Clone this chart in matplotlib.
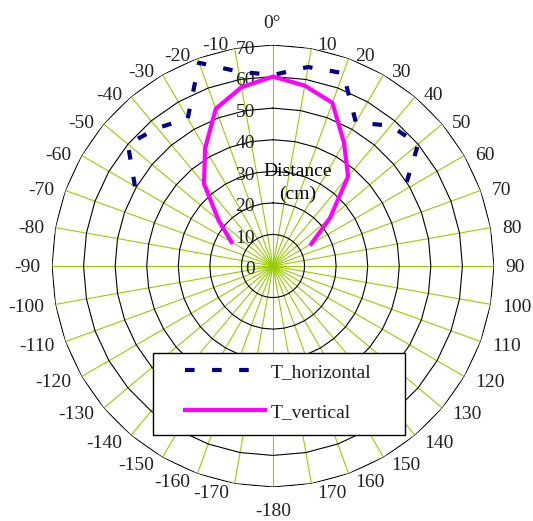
import numpy as np
import matplotlib
matplotlib.use("Agg")
import matplotlib.pyplot as plt
from matplotlib.patches import Rectangle

# ---- data ----
angle_labels = [0, 10, 20, 30, 40, 50, 60, 70, 80, 90, 100, 110, 120, 130, 140, 150, 160, 170,
                -180, -170, -160, -150, -140, -130, -120, -110, -100, -90, -80, -70, -60, -50, -40, -30, -20, -10]
radial_ticks = [0, 10, 20, 30, 40, 50, 60, 70]

angles = [-60, -50, -40, -30, -20, -10, 0, 10, 20, 30, 40, 50, 60]
t_horizontal = [50.5, 60, 57, 54, 68.5, 62.5, 60.5, 64, 65, 52.5, 58, 60, 48]
t_vertical = [15.2, 22.5, 34, 43, 53, 57.5, 60, 58, 55, 45, 37, 23.5, 14]

series_names = ["T_horizontal", "T_vertical"]

W, H = 533, 521
fig = plt.figure(figsize=(W / 100, H / 100), dpi=100)
fig.patch.set_facecolor("white")

cx, cy, R = 273, 266, 221
ax = fig.add_axes([(cx - R) / W, (H - cy - R) / H, 2 * R / W, 2 * R / H], projection="polar")
ax.set_theta_zero_location("N")
ax.set_theta_direction(-1)
ax.set_ylim(0, 70)
ax.grid(False)
ax.set_xticks([])
ax.set_yticks([])
ax.spines["polar"].set_visible(False)
ax.patch.set_facecolor("none")

serif = "Liberation Serif"
tick_color = "#222222"
fs = 14
PT = 0.72  # points per pixel at dpi 100

spoke_deg = np.arange(0, 360, 10)
theta_sp = np.deg2rad(spoke_deg)

# spokes
for th in theta_sp:
    ax.plot([th, th], [0, 70], color="#99CC00", lw=0.8, zorder=1)

# polygonal rings
closed = np.append(theta_sp, theta_sp[0])
for r in radial_ticks[1:]:
    ax.plot(closed, [r] * len(closed), color="black", lw=0.8, zorder=2)

# angle labels (placed next to spoke ends, Excel style)
half_digit = 6.5  # px from digit centre to baseline
for th, lab in zip(theta_sp, angle_labels):
    txt = "0°" if lab == 0 else str(lab)
    s, c = np.sin(th), np.cos(th)
    if abs(s) < 1e-6:
        ha = "center"
        dx = -1.5 if c > 0 else 0
        dy = -24 if c > 0 else 23
    else:
        ha = "left" if s > 0 else "right"
        gap = 4.5 + 7.0 * abs(s)
        dx = np.sign(s) * gap
        dy = -4.5 * c if c > 0 else -7.5 * c
    ax.annotate(txt, xy=(th, 70), xytext=(dx * PT, -(dy + half_digit) * PT),
                textcoords="offset points", ha=ha, va="baseline", fontsize=fs,
                family=serif, color=tick_color, annotation_clip=False)

# radial labels
for r in radial_ticks:
    ax.annotate(str(r), xy=(0, r), xytext=(-18 * PT, -(2 + half_digit) * PT),
                textcoords="offset points", ha="right", va="baseline", fontsize=fs,
                family=serif, color=tick_color, annotation_clip=False, zorder=3)

# series
th_a = np.deg2rad(angles)
lh, = ax.plot(th_a, t_horizontal, color="#000080", lw=3, zorder=4, solid_capstyle="butt")
lh.set_dashes((2.3, 4.2))
lv, = ax.plot(th_a, t_vertical, color="#FF00FF", lw=3, zorder=4)

fig.text(298 / W, 1 - 183 / H, "Distance\n(cm)", ha="center", va="center",
         fontsize=fs, family=serif, color="black", linespacing=1.4, zorder=5)

# legend box
x0, y0, x1, y1 = 153, 353, 405, 435
fig.patches.append(Rectangle((x0 / W, 1 - y1 / H), (x1 - x0) / W, (y1 - y0) / H,
                             transform=fig.transFigure, facecolor="white",
                             edgecolor="black", lw=1, zorder=5))
leg = fig.legend([lh, lv], series_names, loc="center left",
                 bbox_to_anchor=(185 / W, 1 - 392 / H), frameon=False,
                 borderpad=0, borderaxespad=0, handlelength=4.1, handletextpad=0.3,
                 labelspacing=1.16, prop={"family": serif, "size": fs})
leg.set_zorder(6)
for t in leg.get_texts():
    t.set_color(tick_color)

fig.savefig("out.png", dpi=100, facecolor="white")
